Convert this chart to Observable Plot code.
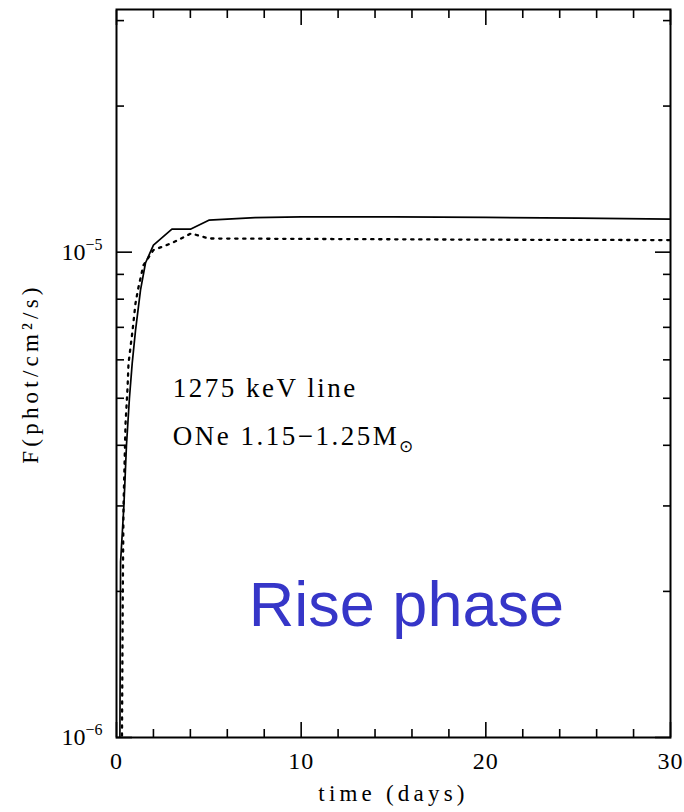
<!DOCTYPE html>
<html><head><meta charset="utf-8">
<script src="https://cdn.jsdelivr.net/npm/d3@7"></script>
<script src="https://cdn.jsdelivr.net/npm/@observablehq/plot@0.6"></script>
<style>
body{margin:0;background:#fff}
#chart{width:684px;height:812px}
g.title text{letter-spacing:4.2px}
g.note text{letter-spacing:2.5px}
g.xlab text{letter-spacing:1px}
</style>
</head><body><div id="chart"></div>
<script>
// Solid curve
const timeSolid = [0.18, 0.22, 0.4, 0.54, 0.7, 0.85, 1.03, 1.3, 1.57, 2, 3, 4, 5, 7.5, 10, 15, 20, 25, 30];
const fluxSolid = [0.9e-6, 2.3e-6, 3.0e-6, 4.0e-6, 5.0e-6, 5.9e-6, 6.9e-6, 8.35e-6, 9.5e-6, 1.034e-5, 1.115e-5, 1.115e-5, 1.164e-5, 1.178e-5, 1.182e-5, 1.182e-5, 1.179e-5, 1.175e-5, 1.17e-5];
// Dotted curve
const timeDotted = [0.29, 0.34, 0.38, 0.49, 0.6, 0.65, 0.87, 1.03, 1.19, 1.46, 2, 3, 4.04, 5, 10, 15, 20, 25, 30];
const fluxDotted = [0.9e-6, 2.0e-6, 3.0e-6, 4.44e-6, 5.27e-6, 5.9e-6, 6.9e-6, 7.85e-6, 8.47e-6, 9.4e-6, 1.01e-5, 1.044e-5, 1.093e-5, 1.067e-5, 1.065e-5, 1.063e-5, 1.061e-5, 1.06e-5, 1.059e-5];
// Ticks
const xMajor = [0, 10, 20, 30];
const xMinor = [2, 4, 6, 8, 12, 14, 16, 18, 22, 24, 26, 28];
const yMajor = [1e-6, 1e-5];
const yMajorBase = "10";
const yMajorExponents = ["−6", "−5"];
const yMinor = [2e-6, 3e-6, 4e-6, 5e-6, 6e-6, 7e-6, 8e-6, 9e-6, 2e-5, 3e-5];
// Texts
const xTitle = "time (days)";
const yTitle = "F(phot/cm²/s)";
const notes = [
  {t: 3.05, F: 5.25e-6, text: "1275 keV line"},
  {t: 3.05, F: 4.18e-6, text: "ONe 1.15−1.25M"}
];
const phase = [{t: 15.7, F: 1.87e-6, text: "Rise phase"}];

const solid = timeSolid.map((t, i) => ({t, F: fluxSolid[i]}));
const dotted = timeDotted.map((t, i) => ({t, F: fluxDotted[i]}));
const serif = "Liberation Serif";

const tickOpts = {strokeWidth: 1.6, fill: "none", label: null};
const chart = Plot.plot({
  width: 684, height: 812,
  marginTop: 9, marginBottom: 75, marginLeft: 116, marginRight: 14,
  style: {fontFamily: serif, background: "white", color: "black"},
  x: {domain: [0, 30]},
  y: {type: "log", domain: [1e-6, 10 ** -4.5]},
  marks: [
    Plot.line(solid, {x: "t", y: "F", stroke: "black", strokeWidth: 1.7, clip: true}),
    Plot.line(dotted, {x: "t", y: "F", stroke: "black", strokeWidth: 2.3, strokeDasharray: "2.3,5.7", clip: true}),
    Plot.frame({stroke: "black", strokeWidth: 2}),
    Plot.axisX({anchor: "bottom", ticks: xMajor, tickSize: -15, ...tickOpts}),
    Plot.axisX({anchor: "bottom", ticks: xMinor, tickSize: -8, ...tickOpts}),
    Plot.axisX({anchor: "top", ticks: xMajor, tickSize: -15, ...tickOpts}),
    Plot.axisX({anchor: "top", ticks: xMinor, tickSize: -8, ...tickOpts}),
    Plot.axisY({anchor: "left", ticks: yMajor, tickSize: -16, ...tickOpts}),
    Plot.axisY({anchor: "left", ticks: yMinor, tickSize: -8, ...tickOpts}),
    Plot.axisY({anchor: "right", ticks: yMajor, tickSize: -16, ...tickOpts}),
    Plot.axisY({anchor: "right", ticks: yMinor, tickSize: -8, ...tickOpts}),
    Plot.axisX({anchor: "bottom", ticks: xMajor, tickSize: 0, tickPadding: 14, fontSize: 24, label: null,
      className: "xlab", tickFormat: d => String(d)}),
    Plot.axisY({anchor: "left", ticks: yMajor, tickSize: 0, tickPadding: 14, fontSize: 24, label: null,
      className: "ylab", tickFormat: () => yMajorBase}),
    Plot.text([xTitle], {text: d => d, frameAnchor: "bottom", dy: 63, fontSize: 23, className: "title"}),
    Plot.text([yTitle], {text: d => d, frameAnchor: "left", textAnchor: "middle", dx: -86, rotate: -90, fontSize: 23, className: "title"}),
    Plot.text(notes, {x: "t", y: "F", text: "text", textAnchor: "start", fontSize: 27, className: "note"}),
    Plot.text(phase, {x: "t", y: "F", text: "text", fontSize: 63, fontFamily: "Liberation Sans", fill: "#3636c8"})
  ]
});
document.getElementById("chart").appendChild(chart);
// superscript exponents on the y tick labels
d3.select(chart).selectAll("g.ylab text").each(function(_, i) {
  d3.select(this).append("tspan").attr("font-size", 16).attr("dy", -10).text(yMajorExponents[i]);
});
// subscript sun symbol after "M"
d3.select(chart).selectAll("g.note text").filter(function() { return this.textContent === notes[1].text; })
  .append("tspan").attr("font-size", 17).attr("dy", 7).text("⊙");
</script>
</body></html>
